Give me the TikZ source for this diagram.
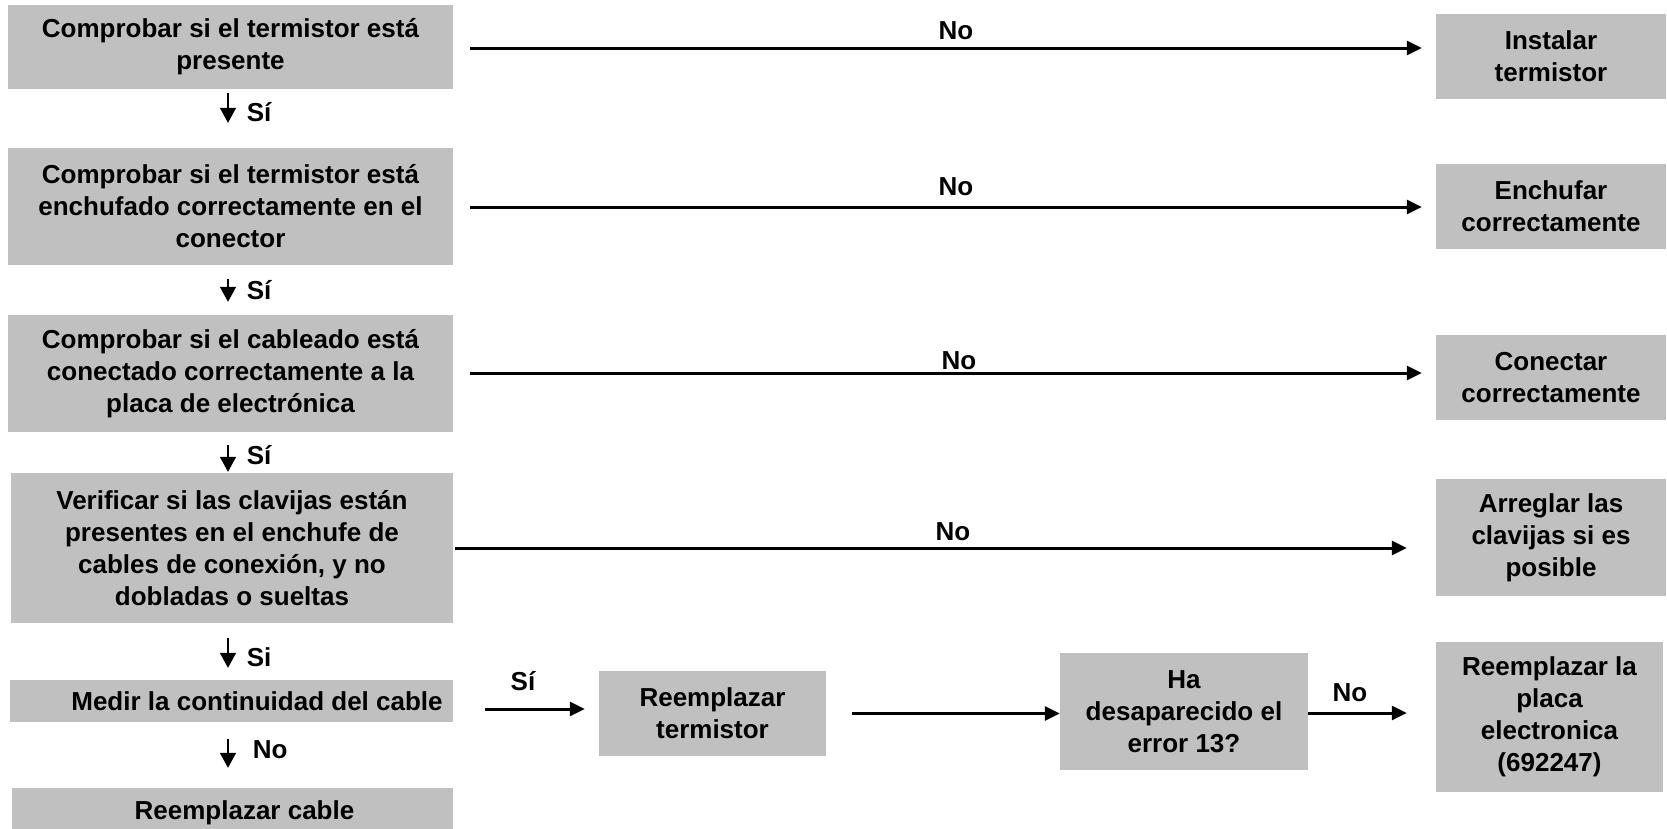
\documentclass[tikz,border=0pt]{standalone}
\usepackage{fontspec}
\setmainfont{Liberation Sans}
\usetikzlibrary{arrows.meta}
\definecolor{boxgray}{RGB}{192,192,192}
\begin{document}
\begin{tikzpicture}[x=1pt,y=-1pt,
  box/.style={fill=boxgray, draw=none, align=center, inner sep=0pt, font=\bfseries\fontsize{26}{32}\selectfont},
  lab/.style={inner sep=0pt, font=\bfseries\fontsize{26}{32}\selectfont},
  harrow/.style={line width=3pt, -{Triangle[length=15pt,width=14pt]}},
  varrow/.style={line width=1.5pt, -{Triangle[length=15pt,width=16pt]}}]
\useasboundingbox (0,0) rectangle (1667,828);
\clip (0,0) rectangle (1667,828);

% left column
\node[box, minimum width=445pt, minimum height=84pt] (b1) at (230.5,47) {Comprobar si el termistor está\\presente};
\node[box, minimum width=445pt, minimum height=117pt] (b2) at (230.5,206.5) {Comprobar si el termistor está\\enchufado correctamente en el\\conector};
\node[box, minimum width=445pt, minimum height=117pt] (b3) at (230.5,373.5) {Comprobar si el cableado está\\conectado correctamente a la\\placa de electrónica};
\node[box, minimum width=442pt, minimum height=150pt] (b4) at (232,548) {Verificar si las clavijas están\\presentes en el enchufe de\\cables de conexión, y no\\dobladas o sueltas};
\node[box, minimum width=443pt, minimum height=42pt] (medir) at (231.5,701) {\hspace*{51pt}Medir la continuidad del cable};
\node[box, minimum width=441pt, minimum height=50pt] (cable) at (232.5,813) {\hspace*{24pt}Reemplazar cable};

% right column
\node[box, minimum width=230pt, minimum height=85pt] (r1) at (1551,56.5) {Instalar\\termistor};
\node[box, minimum width=230pt, minimum height=85pt] (r2) at (1551,206.5) {Enchufar\\correctamente};
\node[box, minimum width=230pt, minimum height=85pt] (r3) at (1551,377.5) {Conectar\\correctamente};
\node[box, minimum width=230pt, minimum height=117pt] (r4) at (1551,537.5) {Arreglar las\\clavijas si es\\posible};
\node[box, minimum width=227pt, minimum height=150pt] (r5) at (1549.5,717) {Reemplazar la\\placa\\electronica\\(692247)};

% middle
\node[box, minimum width=227pt, minimum height=85pt] (rt) at (712.5,713.5) {Reemplazar\\termistor};
\node[box, minimum width=248pt, minimum height=117pt] (ha) at (1184,711.5) {Ha\\desaparecido el\\error 13?};

% horizontal "No" arrows
\draw[harrow, shorten <=17pt, shorten >=14pt] ([yshift=-1pt]b1.east) coordinate (s1) -- (r1.west |- s1)
  node[lab, midway, xshift=11.5pt, yshift=17pt] {No};
\draw[harrow, shorten <=17pt, shorten >=14pt] ([yshift=-0.5pt]b2.east) coordinate (s2) -- (r2.west |- s2)
  node[lab, midway, xshift=11.5pt, yshift=20pt] {No};
\draw[harrow, shorten <=17pt, shorten >=14pt] ([yshift=0.5pt]b3.east) coordinate (s3) -- (r3.west |- s3)
  node[lab, midway, xshift=14.5pt, yshift=12pt] {No};
\draw[harrow, shorten <=2pt, shorten >=29pt] (b4.east) coordinate (s4) -- (r4.west |- s4)
  node[lab, midway, xshift=8.5pt, yshift=16pt] {No};

% vertical arrows
\draw[varrow, shorten <=4pt, shorten >=25pt] ([xshift=-2.5pt]b1.south) -- ([xshift=-2.5pt]b1.south |- b2.north)
  node[lab, midway, anchor=west, xshift=18pt, yshift=6.5pt] {Sí};
\draw[varrow, shorten <=14pt, shorten >=13pt] ([xshift=-2.5pt]b2.south) -- ([xshift=-2.5pt]b2.south |- b3.north)
  node[lab, midway, anchor=west, xshift=18pt, yshift=0pt] {Sí};
\draw[varrow, shorten <=13pt, shorten >=1pt] ([xshift=-2.5pt]b3.south) -- ([xshift=-2.5pt]b3.south |- b4.north)
  node[lab, midway, anchor=west, xshift=18pt, yshift=-2.5pt] {Sí};
\draw[varrow, shorten <=15pt, shorten >=12pt] ([xshift=-4pt]b4.south) -- ([xshift=-4pt]b4.south |- medir.north)
  node[lab, midway, anchor=west, xshift=18pt, yshift=-5.5pt] {Si};
\draw[varrow, shorten <=17pt, shorten >=20pt] ([xshift=-3.5pt]medir.south) -- ([xshift=-3.5pt]medir.south |- cable.north)
  node[lab, midway, anchor=west, xshift=24pt, yshift=5pt] {No};

% bottom row
\draw[harrow, shorten <=32pt, shorten >=14pt] ([yshift=-8pt]medir.east) coordinate (s5) -- (rt.west |- s5)
  node[lab, midway, xshift=-3pt, yshift=28pt] {Sí};
\draw[harrow, shorten <=26pt] (rt.east) coordinate (s6) -- (ha.west |- s6);
\draw[harrow, shorten >=29pt] ([yshift=-1.5pt]ha.east) coordinate (s7) -- (r5.west |- s7)
  node[lab, midway, xshift=-22pt, yshift=20pt] {No};
\end{tikzpicture}
\end{document}
